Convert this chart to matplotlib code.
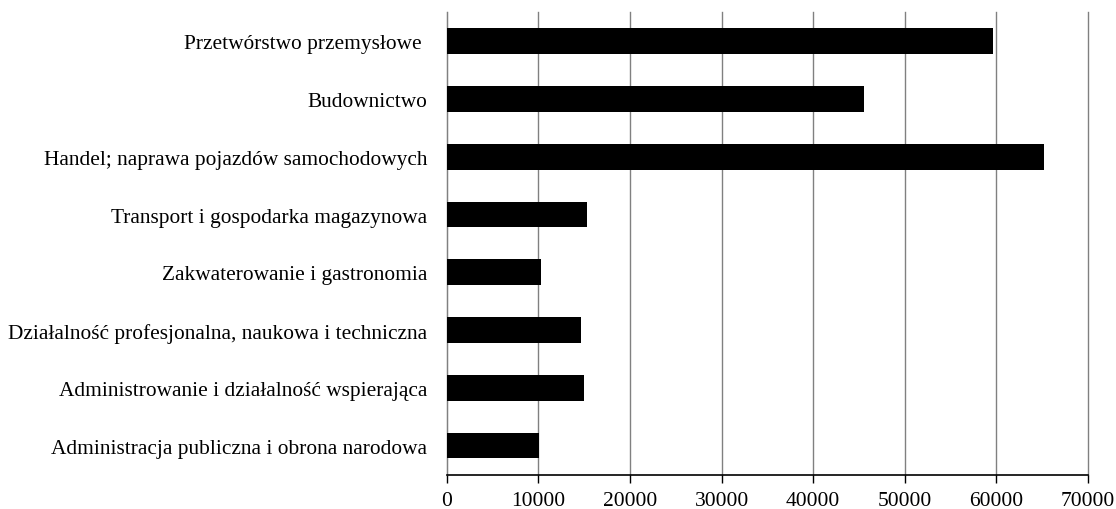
import matplotlib
matplotlib.use("Agg")
import matplotlib.pyplot as plt

categories = [
    "Przetwórstwo przemysłowe ",
    "Budownictwo",
    "Handel; naprawa pojazdów samochodowych",
    "Transport i gospodarka magazynowa",
    "Zakwaterowanie i gastronomia",
    "Działalność profesjonalna, naukowa i techniczna",
    "Administrowanie i działalność wspierająca",
    "Administracja publiczna i obrona narodowa",
]
values = [59600, 45500, 65200, 15300, 10250, 14700, 15000, 10100]
xticks = [0, 10000, 20000, 30000, 40000, 50000, 60000, 70000]

plt.rcParams['font.family'] = ['Liberation Serif', 'DejaVu Serif']

W, H = 1116, 510
fig = plt.figure(figsize=(W / 100, H / 100), dpi=100)
top, bottom = 13.3, 475.5
ax = fig.add_axes([446.7 / W, 1 - bottom / H, (1088 - 446.7) / W, (bottom - top) / H])

pos = list(range(len(categories)))
ax.barh(pos, values, height=0.445, color='black', zorder=3)
ax.set_ylim(len(categories) - 0.5, -0.5)
ax.set_xlim(0, 70000)
ax.set_xticks(xticks)
ax.set_xticklabels([str(t) for t in xticks], fontsize=15.5)
ax.set_yticks(pos)
ax.set_yticklabels(categories, fontsize=15.4)
ax.tick_params(axis='y', length=0, pad=14)
ax.tick_params(axis='x', length=6, width=1, color='black', pad=6)
ax.xaxis.grid(True, color='#808080', linewidth=1, zorder=0)
ax.set_axisbelow(True)
for ln in ax.get_xgridlines():
    ln.set_clip_on(False)
for s in ['top', 'right']:
    ax.spines[s].set_visible(False)
ax.spines['left'].set_color('#808080')
ax.spines['bottom'].set_color('black')
ax.spines['bottom'].set_linewidth(1.2)

fig.savefig('out.png', dpi=100)
